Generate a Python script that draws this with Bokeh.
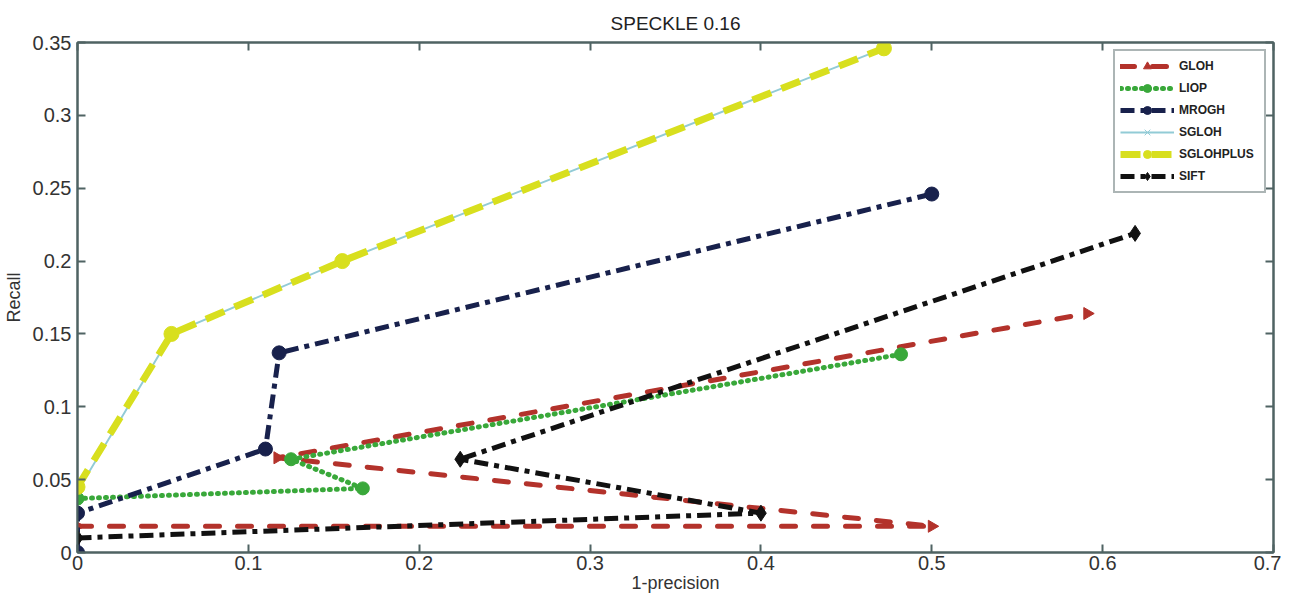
import math
from bokeh.plotting import figure
from bokeh.models import LinearAxis, Legend, LegendItem, FixedTicker, Range1d
from bokeh.embed import file_html
from bokeh.resources import INLINE

# ---- data ----
gloh_x = [0.0, 0.5, 0.117, 0.591]
gloh_y = [0.018, 0.018, 0.065, 0.164]
liop_x = [0.0, 0.167, 0.125, 0.482]
liop_y = [0.037, 0.044, 0.064, 0.136]
mrogh_x = [0.0, 0.0, 0.110, 0.118, 0.5]
mrogh_y = [0.0, 0.027, 0.071, 0.137, 0.246]
sgloh_x = [0.0, 0.055, 0.155, 0.472]
sgloh_y = [0.042, 0.150, 0.200, 0.346]
sglohplus_x = [0.0, 0.055, 0.155, 0.472]
sglohplus_y = [0.045, 0.150, 0.200, 0.346]
sift_x = [0.0, 0.4, 0.224, 0.619]
sift_y = [0.010, 0.027, 0.064, 0.219]

x_ticks = [0, 0.1, 0.2, 0.3, 0.4, 0.5, 0.6, 0.7]
y_ticks = [0, 0.05, 0.1, 0.15, 0.2, 0.25, 0.3, 0.35]
x_tick_labels = {0: "0", 0.1: "0.1", 0.2: "0.2", 0.3: "0.3", 0.4: "0.4", 0.5: "0.5", 0.6: "0.6", 0.7: "0.7"}
y_tick_labels = {0: "0", 0.05: "0.05", 0.1: "0.1", 0.15: "0.15", 0.2: "0.2", 0.25: "0.25", 0.3: "0.3", 0.35: "0.35"}
title_text = "SPECKLE 0.16"

FONT = "Liberation Sans"
AXC = "#4f6363"
BOTTOM = 48
H = 600
FRAME_H = H - 42 - BOTTOM

p = figure(width=1281, height=H, output_backend="svg", toolbar_location=None,
           x_range=Range1d(0, 0.7), y_range=Range1d(0, 0.35),
           min_border_left=77, min_border_right=8, min_border_top=42, min_border_bottom=BOTTOM)

p.title.text = title_text
p.title.align = "center"
p.title.text_font = FONT
p.title.text_font_size = "19px"
p.title.text_font_style = "normal"
p.title.text_color = "#222222"
p.title.standoff = 17

p.grid.visible = False
p.outline_line_color = AXC
p.outline_line_width = 2
p.background_fill_color = "white"
p.border_fill_color = "white"

for ax in (p.xaxis[0], p.yaxis[0]):
    ax.major_tick_in = 8
    ax.major_tick_out = 0
    ax.minor_tick_line_color = None
    ax.axis_line_color = AXC
    ax.axis_line_width = 2
    ax.major_tick_line_color = AXC
    ax.major_tick_line_width = 2
    ax.major_label_text_font = FONT
    ax.major_label_text_font_size = "20px"
    ax.major_label_text_color = "#333333"
    ax.axis_label_text_font = FONT
    ax.axis_label_text_font_size = "18px"
    ax.axis_label_text_font_style = "normal"
    ax.axis_label_text_color = "#333333"

p.xaxis[0].ticker = FixedTicker(ticks=x_ticks)
p.xaxis[0].major_label_overrides = x_tick_labels
p.xaxis[0].axis_label = "1-precision"
p.xaxis[0].axis_label_standoff = 0
p.xaxis[0].major_label_standoff = 3
p.yaxis[0].ticker = FixedTicker(ticks=y_ticks)
p.yaxis[0].major_label_overrides = y_tick_labels
p.yaxis[0].axis_label = "Recall"
p.yaxis[0].axis_label_standoff = 6
p.yaxis[0].major_label_standoff = 6

top_ax = LinearAxis(ticker=FixedTicker(ticks=x_ticks), major_label_text_font_size="0px",
                    major_tick_in=8, major_tick_out=0, minor_tick_line_color=None,
                    axis_line_color=AXC, axis_line_width=2, major_tick_line_color=AXC,
                    major_tick_line_width=2, major_label_standoff=0)
right_ax = LinearAxis(ticker=FixedTicker(ticks=y_ticks), major_label_text_font_size="0px",
                      major_tick_in=8, major_tick_out=0, minor_tick_line_color=None,
                      axis_line_color=AXC, axis_line_width=2, major_tick_line_color=AXC,
                      major_tick_line_width=2, major_label_standoff=0)
p.add_layout(top_ax, "above")
p.add_layout(right_ax, "right")

items = []

def series(name, xs, ys, color, dash, lw, marker, msize, cap="butt", angle=0.0):
    lr = p.line(xs, ys, line_color=color, line_width=lw, line_dash=dash, line_cap=cap)
    sr = p.scatter(xs, ys, marker=marker, size=msize, fill_color=color, line_color=color,
                   angle=angle)
    items.append(LegendItem(label=name, renderers=[lr, sr]))

series("GLOH", gloh_x, gloh_y, "#b3322b", "14 18", 5, "triangle", 12, "round", -math.pi / 2)
series("LIOP", liop_x, liop_y, "#39a83a", "1 6", 5, "circle", 13, "round")
series("MROGH", mrogh_x, mrogh_y, "#18214c", "14 6 5 6", 5, "circle", 14)
series("SGLOH", sgloh_x, sgloh_y, "#92cbd6", "solid", 2, "x", 9)
series("SGLOHPLUS", sglohplus_x, sglohplus_y, "#d8df1e", "20 11", 7, "circle", 15)
series("SIFT", sift_x, sift_y, "#111111", "14 6 5 6", 5, "diamond", 16)

legend = Legend(items=items, location=(1036, FRAME_H - (193 - 42)), margin=0, padding=5, spacing=2,
                glyph_width=54, glyph_height=20, label_height=20, label_width=80, label_standoff=5,
                label_text_font=FONT, label_text_font_size="12px",
                label_text_font_style="bold", label_text_color="#222222",
                border_line_color="#5a6b6b", border_line_width=2,
                background_fill_color="white", background_fill_alpha=1.0)
p.add_layout(legend, "center")

open("out.html", "w").write(file_html(p, INLINE))
